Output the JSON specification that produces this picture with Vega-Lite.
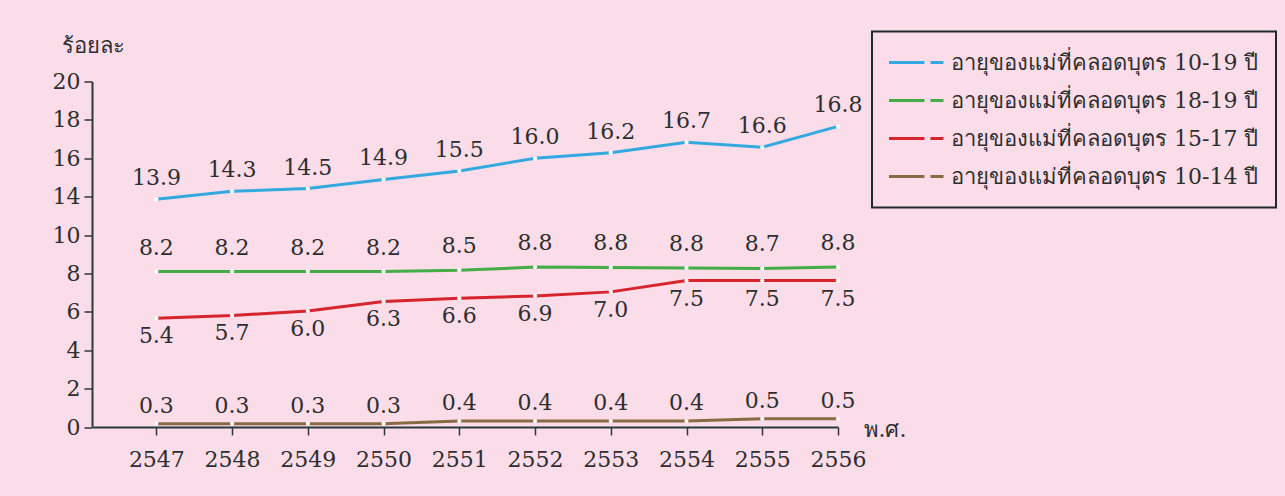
{
  "$schema": "https://vega.github.io/schema/vega-lite/v6.json",
  "width": 746,
  "height": 345.5,
  "autosize": {"type": "none"},
  "padding": {"left": 92, "top": 81.5, "right": 447, "bottom": 69},
  "background": "#fadde8",
  "config": {
    "view": {"stroke": null},
    "font": "DejaVu Serif",
    "axis": {
      "domainColor": "#2b393f",
      "tickColor": "#2b393f",
      "domainWidth": 2,
      "tickWidth": 1.5,
      "tickSize": 8,
      "labelColor": "#2e2e2e",
      "labelFont": "DejaVu Serif",
      "labelFontSize": 22,
      "titleFont": "DejaVu Serif",
      "titleFontSize": 22,
      "titleFontWeight": "normal",
      "titleColor": "#2e2e2e",
      "grid": false
    },
    "legend": {
      "strokeColor": "#1f2a2f",
      "strokeWidth": 2,
      "fillColor": "#fadde8",
      "cornerRadius": 0
    }
  },
  "data": {
    "values": [
      {"year": 2547, "series": "อายุของแม่ที่คลอดบุตร 10-19 ปี", "value": 13.72, "label": "13.9"},
      {"year": 2548, "series": "อายุของแม่ที่คลอดบุตร 10-19 ปี", "value": 14.28, "label": "14.3"},
      {"year": 2549, "series": "อายุของแม่ที่คลอดบุตร 10-19 ปี", "value": 14.42, "label": "14.5"},
      {"year": 2550, "series": "อายุของแม่ที่คลอดบุตร 10-19 ปี", "value": 14.9, "label": "14.9"},
      {"year": 2551, "series": "อายุของแม่ที่คลอดบุตร 10-19 ปี", "value": 15.34, "label": "15.5"},
      {"year": 2552, "series": "อายุของแม่ที่คลอดบุตร 10-19 ปี", "value": 16.0, "label": "16.0"},
      {"year": 2553, "series": "อายุของแม่ที่คลอดบุตร 10-19 ปี", "value": 16.29, "label": "16.2"},
      {"year": 2554, "series": "อายุของแม่ที่คลอดบุตร 10-19 ปี", "value": 16.83, "label": "16.7"},
      {"year": 2555, "series": "อายุของแม่ที่คลอดบุตร 10-19 ปี", "value": 16.57, "label": "16.6"},
      {"year": 2556, "series": "อายุของแม่ที่คลอดบุตร 10-19 ปี", "value": 17.66, "label": "16.8"},
      {"year": 2547, "series": "อายุของแม่ที่คลอดบุตร 18-19 ปี", "value": 8.1, "label": "8.2"},
      {"year": 2548, "series": "อายุของแม่ที่คลอดบุตร 18-19 ปี", "value": 8.1, "label": "8.2"},
      {"year": 2549, "series": "อายุของแม่ที่คลอดบุตร 18-19 ปี", "value": 8.1, "label": "8.2"},
      {"year": 2550, "series": "อายุของแม่ที่คลอดบุตร 18-19 ปี", "value": 8.1, "label": "8.2"},
      {"year": 2551, "series": "อายุของแม่ที่คลอดบุตร 18-19 ปี", "value": 8.17, "label": "8.5"},
      {"year": 2552, "series": "อายุของแม่ที่คลอดบุตร 18-19 ปี", "value": 8.33, "label": "8.8"},
      {"year": 2553, "series": "อายุของแม่ที่คลอดบุตร 18-19 ปี", "value": 8.31, "label": "8.8"},
      {"year": 2554, "series": "อายุของแม่ที่คลอดบุตร 18-19 ปี", "value": 8.29, "label": "8.8"},
      {"year": 2555, "series": "อายุของแม่ที่คลอดบุตร 18-19 ปี", "value": 8.26, "label": "8.7"},
      {"year": 2556, "series": "อายุของแม่ที่คลอดบุตร 18-19 ปี", "value": 8.33, "label": "8.8"},
      {"year": 2547, "series": "อายุของแม่ที่คลอดบุตร 15-17 ปี", "value": 5.67, "label": "5.4"},
      {"year": 2548, "series": "อายุของแม่ที่คลอดบุตร 15-17 ปี", "value": 5.81, "label": "5.7"},
      {"year": 2549, "series": "อายุของแม่ที่คลอดบุตร 15-17 ปี", "value": 6.04, "label": "6.0"},
      {"year": 2550, "series": "อายุของแม่ที่คลอดบุตร 15-17 ปี", "value": 6.54, "label": "6.3"},
      {"year": 2551, "series": "อายุของแม่ที่คลอดบุตร 15-17 ปี", "value": 6.71, "label": "6.6"},
      {"year": 2552, "series": "อายุของแม่ที่คลอดบุตร 15-17 ปี", "value": 6.83, "label": "6.9"},
      {"year": 2553, "series": "อายุของแม่ที่คลอดบุตร 15-17 ปี", "value": 7.04, "label": "7.0"},
      {"year": 2554, "series": "อายุของแม่ที่คลอดบุตร 15-17 ปี", "value": 7.63, "label": "7.5"},
      {"year": 2555, "series": "อายุของแม่ที่คลอดบุตร 15-17 ปี", "value": 7.63, "label": "7.5"},
      {"year": 2556, "series": "อายุของแม่ที่คลอดบุตร 15-17 ปี", "value": 7.63, "label": "7.5"},
      {"year": 2547, "series": "อายุของแม่ที่คลอดบุตร 10-14 ปี", "value": 0.17, "label": "0.3"},
      {"year": 2548, "series": "อายุของแม่ที่คลอดบุตร 10-14 ปี", "value": 0.17, "label": "0.3"},
      {"year": 2549, "series": "อายุของแม่ที่คลอดบุตร 10-14 ปี", "value": 0.17, "label": "0.3"},
      {"year": 2550, "series": "อายุของแม่ที่คลอดบุตร 10-14 ปี", "value": 0.17, "label": "0.3"},
      {"year": 2551, "series": "อายุของแม่ที่คลอดบุตร 10-14 ปี", "value": 0.31, "label": "0.4"},
      {"year": 2552, "series": "อายุของแม่ที่คลอดบุตร 10-14 ปี", "value": 0.31, "label": "0.4"},
      {"year": 2553, "series": "อายุของแม่ที่คลอดบุตร 10-14 ปี", "value": 0.31, "label": "0.4"},
      {"year": 2554, "series": "อายุของแม่ที่คลอดบุตร 10-14 ปี", "value": 0.31, "label": "0.4"},
      {"year": 2555, "series": "อายุของแม่ที่คลอดบุตร 10-14 ปี", "value": 0.43, "label": "0.5"},
      {"year": 2556, "series": "อายุของแม่ที่คลอดบุตร 10-14 ปี", "value": 0.43, "label": "0.5"}
    ]
  },
  "encoding": {
    "x": {
      "field": "year",
      "type": "quantitative",
      "scale": {"domain": [2546.15, 2556], "nice": false, "zero": false},
      "axis": {
        "values": [2547, 2548, 2549, 2550, 2551, 2552, 2553, 2554, 2555, 2556],
        "format": "d",
        "labelOverlap": false,
        "labelFlush": false,
        "labelBound": false,
        "labelPadding": 14,
        "title": "พ.ศ.",
        "titleAnchor": "start",
        "titleAlign": "left",
        "titleBaseline": "alphabetic",
        "titleX": 771,
        "titleY": 9
      }
    },
    "y": {
      "field": "value",
      "type": "quantitative",
      "scale": {"domain": [0, 10, 14, 20], "range": [345.5, 153.56, 115.17, 0], "nice": false, "zero": false},
      "axis": {
        "values": [0, 2, 4, 6, 8, 10, 14, 16, 18, 20],
        "labelPadding": 4,
        "labelFlush": false,
        "title": "ร้อยละ",
        "titleAngle": 0,
        "titleAlign": "left",
        "titleBaseline": "alphabetic",
        "titleX": -31,
        "titleY": -29
      }
    }
  },
  "layer": [
    {
      "mark": {"type": "line", "strokeWidth": 3},
      "encoding": {
        "color": {
          "field": "series",
          "type": "nominal",
          "scale": {
            "domain": ["อายุของแม่ที่คลอดบุตร 10-19 ปี", "อายุของแม่ที่คลอดบุตร 18-19 ปี", "อายุของแม่ที่คลอดบุตร 15-17 ปี", "อายุของแม่ที่คลอดบุตร 10-14 ปี"],
            "range": ["#33a9e0", "#44ad48", "#d6252f", "#8a6a45"]
          },
          "legend": {
            "title": null,
            "orient": "none",
            "legendX": 780,
            "legendY": -50,
            "padding": 17,
            "symbolType": "M-1.5,0H2.4M3.0,0H4.3",
            "symbolSize": 400,
            "symbolStrokeWidth": 3,
            "labelFont": "DejaVu Serif",
            "labelFontSize": 22,
            "labelColor": "#2e2e2e",
            "labelOffset": 39,
            "labelLimit": 400,
            "clipHeight": 28,
            "rowPadding": 10
          }
        }
      }
    },
    {
      "mark": {"type": "point", "filled": true, "color": "white", "size": 18, "opacity": 1}
    },
    {
      "transform": [{"filter": "datum.series == 'อายุของแม่ที่คลอดบุตร 10-19 ปี'"}],
      "mark": {"type": "text", "dy": -21, "baseline": "middle", "align": "center", "fontSize": 22, "color": "#2e2e2e"},
      "encoding": {"text": {"field": "label"}}
    },
    {
      "transform": [{"filter": "datum.series == 'อายุของแม่ที่คลอดบุตร 18-19 ปี'"}],
      "mark": {"type": "text", "dy": -24, "baseline": "middle", "align": "center", "fontSize": 22, "color": "#2e2e2e"},
      "encoding": {"text": {"field": "label"}}
    },
    {
      "transform": [{"filter": "datum.series == 'อายุของแม่ที่คลอดบุตร 15-17 ปี'"}],
      "mark": {"type": "text", "dy": 18, "baseline": "middle", "align": "center", "fontSize": 22, "color": "#2e2e2e"},
      "encoding": {"text": {"field": "label"}}
    },
    {
      "transform": [{"filter": "datum.series == 'อายุของแม่ที่คลอดบุตร 10-14 ปี'"}],
      "mark": {"type": "text", "dy": -18, "baseline": "middle", "align": "center", "fontSize": 22, "color": "#2e2e2e"},
      "encoding": {"text": {"field": "label"}}
    }
  ]
}
